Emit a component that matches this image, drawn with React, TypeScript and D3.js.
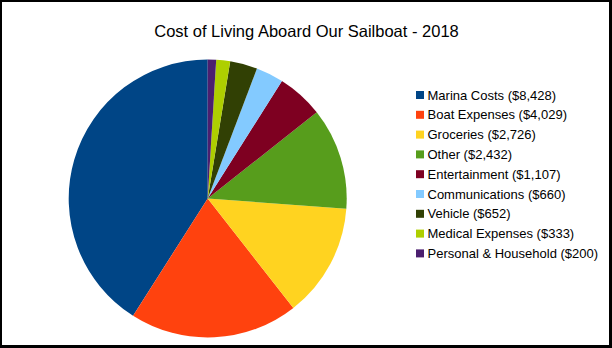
import React from "react";
import * as d3 from "d3";

const categories = [
  "Marina Costs",
  "Boat Expenses",
  "Groceries",
  "Other",
  "Entertainment",
  "Communications",
  "Vehicle",
  "Medical Expenses",
  "Personal & Household",
];
const values = [8428, 4029, 2726, 2432, 1107, 660, 652, 333, 200];
const colors = [
  "#004586",
  "#ff420e",
  "#ffd320",
  "#579d1c",
  "#7e0021",
  "#83caff",
  "#314004",
  "#aecf00",
  "#4b1f6f",
];
const title = "Cost of Living Aboard Our Sailboat - 2018";

const W = 612;
const H = 348;

export default function App() {
  const cx = 207.7;
  const cy = 198.5;
  const r = 139;
  const pie = d3
    .pie<number>()
    .sort(null)
    .startAngle(0)
    .endAngle(-2 * Math.PI)
    .value((d) => d);
  const arcs = pie(values);
  const arc = d3.arc<d3.PieArcDatum<number>>().innerRadius(0).outerRadius(r);
  const fmt = d3.format(",");
  const legendX = 416;
  const legendY0 = 95;
  const legendStep = 19.8;
  const font = "'Liberation Sans', Arial, sans-serif";

  return (
    <svg
      width={W}
      height={H}
      style={{ position: "absolute", left: 0, top: 0, display: "block" }}
    >
      <rect x={0} y={0} width={W} height={H} fill="#000" />
      <rect x={2} y={2} width={607} height={343} fill="#fff" />
      <text
        x={306.5}
        y={36.5}
        textAnchor="middle"
        fontFamily={font}
        fontSize={16.5}
        fill="#000"
      >
        {title}
      </text>
      <g transform={`translate(${cx},${cy})`}>
        {arcs.map((a, i) => (
          <path key={i} d={arc(a) || ""} fill={colors[i]} />
        ))}
      </g>
      <g>
        {categories.map((c, i) => {
          const y = legendY0 + i * legendStep;
          return (
            <g key={c}>
              <rect x={legendX} y={y - 4} width={8} height={8} fill={colors[i]} />
              <text
                x={427.5}
                y={y}
                dy="0.35em"
                fontFamily={font}
                fontSize={13}
                fill="#000"
              >
                {`${c} ($${fmt(values[i])})`}
              </text>
            </g>
          );
        })}
      </g>
    </svg>
  );
}
